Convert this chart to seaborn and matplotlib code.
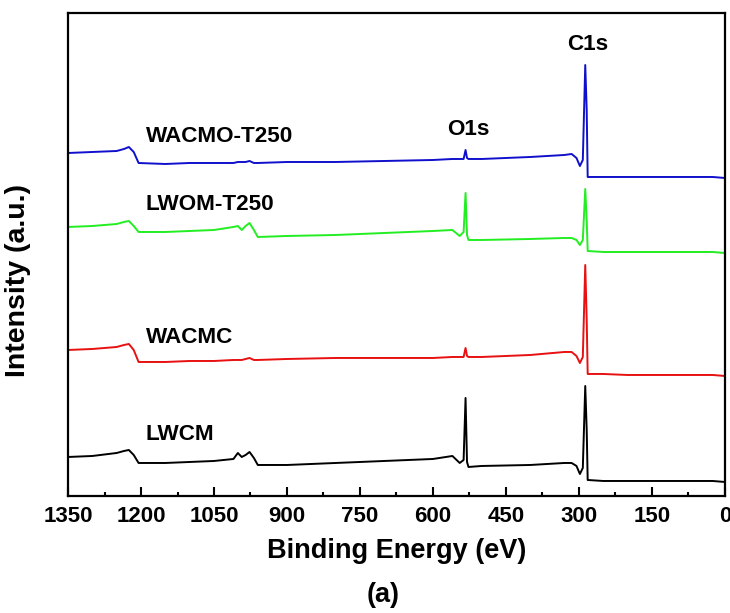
import matplotlib
matplotlib.use("Agg")
import matplotlib.pyplot as plt
from matplotlib.ticker import MultipleLocator
import pandas as pd
import seaborn as sns

# Binding energy grid (eV) shared by all four survey spectra
energy = [1350, 1300, 1250, 1235, 1225, 1215, 1205, 1150, 1100, 1050,
          1010, 1001, 993, 985, 977, 968, 960, 900, 800, 700,
          600, 560, 545, 537, 533, 530, 527, 500, 400, 330,
          315, 305, 298, 292, 287, 284, 282, 250, 200, 160,
          105, 50, 25, 0]

# Intensities (a.u., already stacked with offsets as in the figure)
wacmo_t250 = [343, 344, 345, 347, 349, 344, 333, 332, 333, 333,
              333, 334, 334, 334, 335, 333, 333, 334, 334, 335,
              336, 337, 337, 337, 346, 338, 337, 337, 339, 341,
              342, 338, 330, 336, 431, 386, 319, 319, 319, 319,
              319, 319, 319, 318]
lwom_t250 = [269, 270, 272, 274, 275, 270, 264, 264, 265, 266,
             269, 270, 266, 270, 273, 266, 259, 260, 261, 263,
             265, 266, 260, 264, 303, 261, 256, 256, 257, 258,
             258, 256, 251, 256, 307, 276, 245, 244, 244, 244,
             244, 244, 244, 243]
wacmc = [146, 147, 149, 151, 152, 146, 134, 134, 135, 135,
         136, 136, 136, 137, 138, 136, 136, 137, 138, 138,
         138, 139, 139, 139, 148, 140, 139, 139, 141, 144,
         144, 140, 133, 139, 231, 176, 122, 122, 121, 121,
         121, 121, 121, 120]
lwcm = [39, 40, 43, 45, 46, 41, 33, 33, 34, 35,
        37, 43, 39, 41, 44, 38, 31, 31, 33, 35,
        37, 40, 33, 36, 98, 34, 29, 30, 31, 33,
        33, 30, 22, 28, 110, 66, 16, 15, 15, 15,
        15, 15, 15, 14]

samples = ["WACMO-T250", "LWOM-T250", "WACMC", "LWCM"]
colors = {"WACMO-T250": "#1010cc", "LWOM-T250": "#22ee22",
          "WACMC": "#e81010", "LWCM": "#000000"}

frames = []
for name, vals in zip(samples, [wacmo_t250, lwom_t250, wacmc, lwcm]):
    frames.append(pd.DataFrame({"energy": energy, "intensity": vals, "sample": name}))
df = pd.concat(frames, ignore_index=True)

sns.set_style("ticks")
plt.rcParams["font.family"] = ["Liberation Sans", "DejaVu Sans"]
plt.rcParams["font.weight"] = "bold"
plt.rcParams["text.color"] = "black"
plt.rcParams["axes.labelcolor"] = "black"
plt.rcParams["xtick.color"] = "black"

fig = plt.figure(figsize=(7.3, 6.13), dpi=100)
ax = fig.add_axes([0.0932, 0.1909, 0.8998, 0.7879])

sns.lineplot(data=df, x="energy", y="intensity", hue="sample", palette=colors,
             sort=False, estimator=None, linewidth=1.4, legend=False, ax=ax)

ax.set_xlim(1350, 0)
ax.set_ylim(0, 483)
ax.xaxis.set_major_locator(MultipleLocator(150))
ax.xaxis.set_minor_locator(MultipleLocator(75))
ax.set_yticks([])
ax.tick_params(axis="x", which="major", direction="in", length=6.5, width=1.5,
               labelsize=16, pad=7, colors="black")
ax.tick_params(axis="x", which="minor", direction="in", length=3.2, width=1.5)
for lab in ax.get_xticklabels():
    lab.set_fontweight("bold")
for sp in ax.spines.values():
    sp.set_linewidth(1.6)
    sp.set_color("black")

ax.set_xlabel("Binding Energy (eV)", fontsize=19.5, fontweight="bold", color="black")
ax.xaxis.set_label_coords(0.5, -0.088)
ax.set_ylabel("Intensity (a.u.)", fontsize=20.5, fontweight="bold", color="black")
ax.yaxis.set_label_coords(-0.056, 0.447)

# sample labels and peak assignments
label_pos = {"WACMO-T250": 359, "LWOM-T250": 291, "WACMC": 158, "LWCM": 61}
for name in samples:
    ax.text(1190, label_pos[name], name, fontsize=16.2, fontweight="bold",
            ha="left", va="center", color="black")
ax.text(528, 366, "O1s", fontsize=16.2, fontweight="bold", ha="center", va="center",
        color="black")
ax.text(283, 451, "C1s", fontsize=16.2, fontweight="bold", ha="center", va="center",
        color="black")

fig.text(383 / 730, 1 - 595 / 613, "(a)", fontsize=19.5, fontweight="bold",
         ha="center", va="center", color="black")

fig.savefig("out.png", dpi=100)
